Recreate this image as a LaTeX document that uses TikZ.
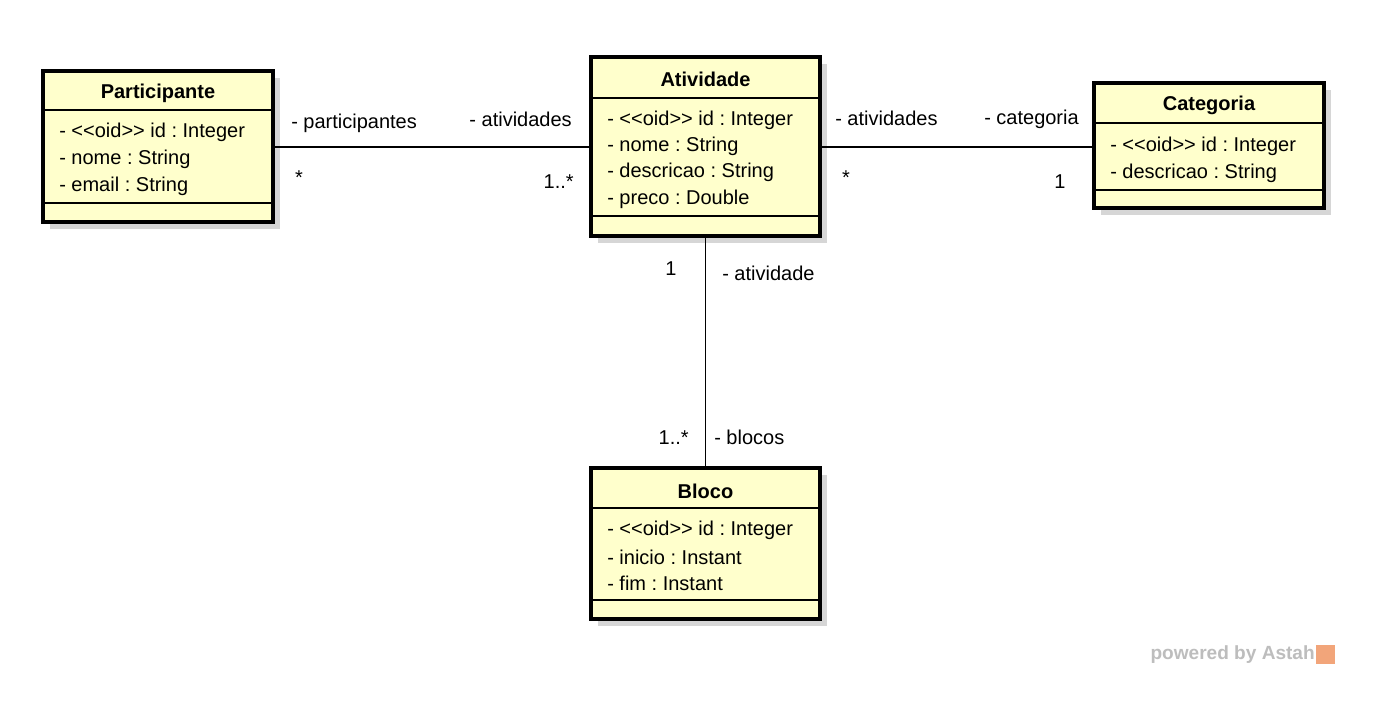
\documentclass[tikz,border=0pt]{standalone}
\usepackage{fontspec}
\newfontfamily\lsans{Liberation Sans}
\usetikzlibrary{fit,shadows}
\definecolor{classfill}{HTML}{FFFFCC}
\definecolor{shadowc}{HTML}{D6D6D6}
\definecolor{wmgray}{HTML}{BDBDBD}
\definecolor{wmorange}{HTML}{F2A57A}
\frenchspacing
\tikzset{
  classbox/.style={draw=black, line width=2.3pt, fill=classfill, inner sep=0pt,
    drop shadow={shadow xshift=5pt, shadow yshift=-5pt, fill=shadowc, opacity=1}},
  divider/.style={draw=black, line width=1pt},
  assoc/.style={draw=black, line width=1pt},
  title/.style={font=\lsans\fontsize{15}{18}\selectfont\bfseries, inner sep=0pt},
  attr/.style={font=\lsans\fontsize{15}{18}\selectfont, anchor=west, inner sep=0pt},
  lbl/.style={font=\lsans\fontsize{15}{18}\selectfont, inner sep=0pt},
  wm/.style={font=\lsans\fontsize{14.3}{17}\selectfont\bfseries, text=wmgray, inner sep=0pt}
}
\begin{document}
\begin{tikzpicture}[x=0.75pt,y=-0.75pt]
\useasboundingbox[fill=white] (0,0) rectangle (1380,709);

% Participante
\node[classbox, fit={(43,71) (273,222)}] (part) {};
\draw[divider] (part.west |- 0,110) -- (part.east |- 0,110);
\draw[divider] (part.west |- 0,203) -- (part.east |- 0,203);
\node[title] (partT) at (158,93) {Participante};
\node[attr] (partA1) at (59,132) {- <<oid>> id : Integer};
\node[attr] (partA2) at (59,159) {- nome : String};
\node[attr] (partA3) at (59,186) {- email : String};

% Atividade
\node[classbox, fit={(591,57) (820,236)}] (atv) {};
\draw[divider] (atv.west |- 0,98) -- (atv.east |- 0,98);
\draw[divider] (atv.west |- 0,216) -- (atv.east |- 0,216);
\node[title] (atvT) at (705.5,79) {Atividade};
\node[attr] (atvA1) at (607,120) {- <<oid>> id : Integer};
\node[attr] (atvA2) at (607,146) {- nome : String};
\node[attr] (atvA3) at (607,172) {- descricao : String};
\node[attr] (atvA4) at (607,199) {- preco : Double};

% Categoria
\node[classbox, fit={(1094,83) (1324,208)}] (cat) {};
\draw[divider] (cat.west |- 0,123) -- (cat.east |- 0,123);
\draw[divider] (cat.west |- 0,190) -- (cat.east |- 0,190);
\node[title] (catT) at (1209,105) {Categoria};
\node[attr] (catA1) at (1110,146) {- <<oid>> id : Integer};
\node[attr] (catA2) at (1110,173) {- descricao : String};

% Bloco
\node[classbox, fit={(591,468) (820,619)}] (blo) {};
\draw[divider] (blo.west |- 0,508) -- (blo.east |- 0,508);
\draw[divider] (blo.west |- 0,600) -- (blo.east |- 0,600);
\node[title] (bloT) at (705.5,491) {Bloco};
\node[attr] (bloA1) at (607,530) {- <<oid>> id : Integer};
\node[attr] (bloA2) at (607,557) {- inicio : Instant};
\node[attr] (bloA3) at (607,583) {- fim : Instant};

% Associations
\draw[assoc] (part.east |- 0,147) -- (atv.west |- 0,147);
\draw[assoc] (atv.east |- 0,147) -- (cat.west |- 0,147);
\draw[assoc] (atv.south) -- (blo.north);

% Association labels
\node[lbl, anchor=west] (l1) at (291,123) {- participantes};
\node[lbl] (l2) at (299,178) {*};
\node[lbl, anchor=east] (l3) at (572,119) {- atividades};
\node[lbl, anchor=east] (l4) at (574,182) {1..*};
\node[lbl, anchor=west] (l5) at (835,118) {- atividades};
\node[lbl] (l6) at (846,178) {*};
\node[lbl, anchor=east] (l7) at (1079,119) {- categoria};
\node[lbl] (l8) at (1060,182) {1};
\node[lbl] (l9) at (671,269) {1};
\node[lbl, anchor=west] (l10) at (722,273) {- atividade};
\node[lbl, anchor=east] (l11) at (689,438) {1..*};
\node[lbl, anchor=west] (l12) at (714,437) {- blocos};

% Watermark
\node[wm, anchor=east] (wmT) at (1315,655) {powered by Astah};
\fill[wmorange] (1316,645) rectangle (1335,664);
\end{tikzpicture}
\end{document}
